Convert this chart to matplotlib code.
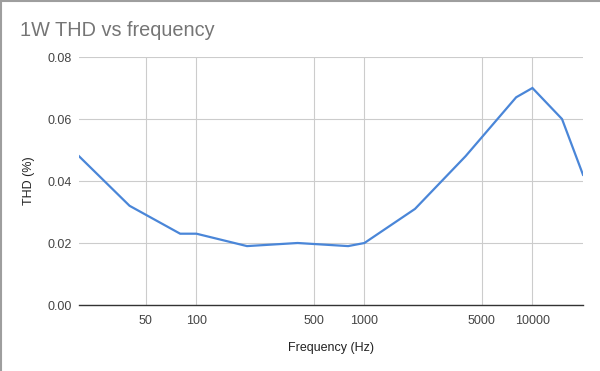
import matplotlib
matplotlib.use("Agg")
import matplotlib.pyplot as plt
from matplotlib.ticker import FixedLocator, NullLocator

# data
freq_hz = [20, 40, 80, 100, 200, 400, 800, 1000, 2000, 4000, 8000, 10000, 15000, 20000]
thd_pct = [0.048, 0.032, 0.023, 0.023, 0.019, 0.020, 0.019, 0.020, 0.031, 0.048, 0.067, 0.070, 0.060, 0.042]

x_ticks = [50, 100, 500, 1000, 5000, 10000]
x_tick_labels = ["50", "100", "500", "1000", "5000", "10000"]
y_ticks = [0.00, 0.02, 0.04, 0.06, 0.08]
y_tick_labels = ["0.00", "0.02", "0.04", "0.06", "0.08"]

plt.rcParams['font.family'] = ['Liberation Sans', 'DejaVu Sans']

fig = plt.figure(figsize=(6.0, 3.71), dpi=100)
ax = fig.add_axes([79 / 600, 66 / 371, 504 / 600, 248 / 371])

ax.plot(freq_hz, thd_pct, color='#4a86d8', linewidth=1.6, solid_joinstyle='miter')

ax.set_xscale('log')
ax.set_xlim(20, 20000)
ax.set_ylim(0, 0.08)

ax.xaxis.set_major_locator(FixedLocator(x_ticks))
ax.xaxis.set_minor_locator(NullLocator())
ax.set_xticks(x_ticks, x_tick_labels)
ax.set_yticks(y_ticks, y_tick_labels)

ax.grid(True, color='#cccccc', linewidth=0.8)
ax.set_axisbelow(True)
ax.tick_params(axis='both', length=0, labelsize=9, colors='#444444')
ax.tick_params(axis='x', pad=7)
ax.tick_params(axis='y', pad=5)

for side in ['top', 'right', 'left']:
    ax.spines[side].set_visible(False)
ax.spines['bottom'].set_color('#333333')
ax.spines['bottom'].set_linewidth(1.0)

ax.set_xlabel('Frequency (Hz)', fontsize=9, color='#222222', labelpad=11)
ax.set_ylabel('THD (%)', fontsize=9, color='#222222', labelpad=9)

fig.text(20 / 600, 1 - 30 / 371, '1W THD vs frequency', fontsize=14.3, color='#757575',
         ha='left', va='center')

# screenshot border along the top and left edges
fig.add_artist(plt.Line2D([0, 1], [1 - 0.5 / 371, 1 - 0.5 / 371], color='#9e9e9e', linewidth=1.5))
fig.add_artist(plt.Line2D([0.5 / 600, 0.5 / 600], [0, 1], color='#9e9e9e', linewidth=1.5))

fig.savefig('out.png', dpi=100)
